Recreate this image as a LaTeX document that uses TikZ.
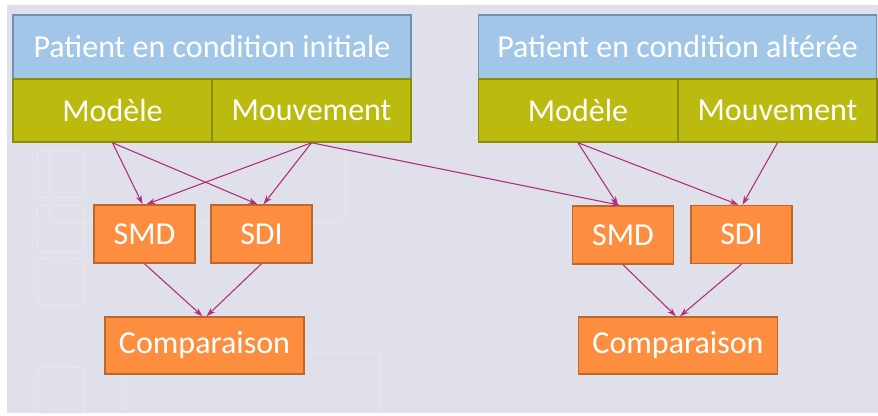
\documentclass[tikz,border=0pt]{standalone}
\usepackage{xcolor}
\usepackage{fontspec}
\setmainfont{Carlito}
\usetikzlibrary{arrows.meta}

\definecolor{bgGray}{RGB}{224,224,234}
\definecolor{tileLine}{RGB}{232,232,240}
\definecolor{headBlue}{RGB}{161,198,231}
\definecolor{headLine}{RGB}{112,146,176}
\definecolor{partOlive}{RGB}{187,186,14}
\definecolor{partLine}{RGB}{140,140,10}
\definecolor{stepOrange}{RGB}{254,142,63}
\definecolor{stepLine}{RGB}{192,102,42}
\definecolor{linkPlum}{RGB}{176,48,128}

\begin{document}
\begin{tikzpicture}[x=1pt, y=-1pt,
    every node/.style={text=white, font=\fontsize{32}{38}\selectfont, inner sep=0pt},
    head/.style={draw=headLine, fill=headBlue, line width=1.5pt, minimum width=398pt, minimum height=64pt},
    part/.style={draw=partLine, fill=partOlive, line width=1.5pt, minimum width=199pt, minimum height=63pt},
    stepbox/.style={draw=stepLine, fill=stepOrange, line width=1.5pt, minimum width=101pt, minimum height=58pt},
    compbox/.style={draw=stepLine, fill=stepOrange, line width=1.5pt, minimum width=199pt, minimum height=57pt},
    tile/.style={draw=tileLine, line width=1pt, rounded corners=6pt},
    link/.style={draw=linkPlum, line width=1.1pt, -{Stealth[length=9pt, width=6pt]}}]
    \useasboundingbox (0,0) rectangle (878,415);
    % background
    \fill[white] (0,0) rectangle (878,415);
    \fill[bgGray] (7,5) rectangle (878,413);
    \begin{scope}
        \clip (7,5) rectangle (878,413);
        \foreach \ytop in {150,205,258,367}
            \draw[tile] (37,\ytop) rectangle (84,\ytop+47);
        \draw[tile] (50,25) rectangle (345,222);
        \draw[tile] (125,352) rectangle (380,430);
    \end{scope}

    % initial condition
    \node[head] (headA) at (212,47) {Patient en condition initiale};
    \node[part] (modA) at (112.5,110.5) {Modèle};
    \node[part] (mouvA) at (311.5,110.5) {Mouvement};
    \node[stepbox] (smdA) at (144.5,234) {SMD};
    \node[stepbox] (sdiA) at (261.5,234) {SDI};
    \node[compbox] (compA) at (204.5,345.5) {Comparaison};

    % altered condition
    \node[head] (headB) at (677.5,47) {Patient en condition altérée};
    \node[part] (modB) at (578,110.5) {Modèle};
    \node[part] (mouvB) at (777.5,110.5) {Mouvement};
    \node[stepbox] (smdB) at (623,235) {SMD};
    \node[stepbox] (sdiB) at (741.5,234.5) {SDI};
    \node[compbox] (compB) at (678,345.5) {Comparaison};

    % links
    \draw[link] (modA.south) -- ([xshift=-2pt]smdA.north);
    \draw[link] (modA.south) -- ([xshift=-4pt]sdiA.north);
    \draw[link] (mouvA.south) -- ([xshift=2pt]smdA.north);
    \draw[link] (mouvA.south) -- ([xshift=2pt]sdiA.north);
    \draw[link] (mouvA.south) -- ([xshift=-3pt]smdB.north);
    \draw[link] (modB.south) -- ([xshift=-5pt]smdB.north);
    \draw[link] (modB.south) -- ([xshift=-3pt]sdiB.north);
    \draw[link] (mouvB.south) -- ([xshift=1pt]sdiB.north);
    \draw[link] (smdA.south) -- ([xshift=-2pt]compA.north);
    \draw[link] (sdiA.south) -- ([xshift=2pt]compA.north);
    \draw[link] (smdB.south) -- ([xshift=-2pt]compB.north);
    \draw[link] (sdiB.south) -- ([xshift=2pt]compB.north);
\end{tikzpicture}
\end{document}
